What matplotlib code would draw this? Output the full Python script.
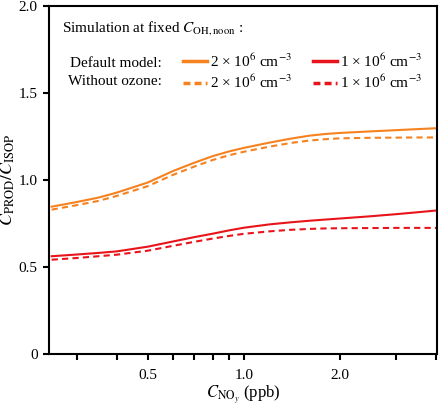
import numpy as np
import matplotlib
matplotlib.use("Agg")
import matplotlib.pyplot as plt
from matplotlib.lines import Line2D
from matplotlib.ticker import FixedLocator, NullFormatter

plt.rcParams["font.family"] = ["Liberation Serif", "DejaVu Serif"]
plt.rcParams["mathtext.fontset"] = "stix"

# ---------------------------------------------------------
# DATA
# ---------------------------------------------------------
noy = [0.25, 0.3, 0.35, 0.4, 0.5, 0.6, 0.7, 0.8, 0.9, 1.0,
       1.2, 1.4, 1.6, 1.8, 2.0, 2.5, 3.0, 3.5, 4.0]
oh2_default = [0.847, 0.874, 0.899, 0.928, 0.986, 1.052, 1.100, 1.138, 1.165, 1.185,
               1.215, 1.238, 1.255, 1.265, 1.271, 1.280, 1.287, 1.293, 1.298]
oh2_no_ozone = [0.830, 0.856, 0.880, 0.909, 0.965, 1.030, 1.078, 1.116, 1.143, 1.163,
                1.192, 1.213, 1.227, 1.235, 1.240, 1.243, 1.244, 1.245, 1.245]
oh1_default = [0.562, 0.572, 0.581, 0.590, 0.617, 0.647, 0.672, 0.692, 0.711, 0.726,
               0.745, 0.757, 0.766, 0.773, 0.779, 0.792, 0.804, 0.815, 0.825]
oh1_no_ozone = [0.542, 0.552, 0.562, 0.571, 0.594, 0.622, 0.645, 0.664, 0.679, 0.691,
                0.705, 0.714, 0.719, 0.722, 0.723, 0.724, 0.725, 0.725, 0.725]

x_major = [0.5, 1.0, 2.0]
x_major_labels = ["0.5", "1.0", "2.0"]
x_minor = [0.3, 0.4, 0.6, 0.7, 0.8, 0.9, 3.0, 4.0]
y_ticks = [0, 0.5, 1.0, 1.5, 2.0]
y_labels = ["0", "0.5", "1.0", "1.5", "2.0"]

ORANGE = "#F5821F"
RED = "#E8141B"
dash = (3, 2)

# ---------------------------------------------------------
# PLOT
# ---------------------------------------------------------
fig = plt.figure(figsize=(4.4, 4.09), dpi=100)
ax = fig.add_axes([0.111, 0.1345, 0.882, 0.8505])

ax.plot(noy, oh2_default, color=ORANGE, lw=1.5)
ax.plot(noy, oh2_no_ozone, color=ORANGE, lw=1.5, ls=(0, dash))
ax.plot(noy, oh1_default, color=RED, lw=1.5)
ax.plot(noy, oh1_no_ozone, color=RED, lw=1.5, ls=(0, dash))

ax.set_xscale("log")
ax.set_xlim(0.245, 4.02)
ax.set_ylim(0, 2.0)
ax.xaxis.set_major_locator(FixedLocator(x_major))
ax.set_xticks(x_major, x_major_labels)
ax.xaxis.set_minor_locator(FixedLocator(x_minor))
ax.xaxis.set_minor_formatter(NullFormatter())
ax.set_yticks(y_ticks, y_labels)

for s in ax.spines.values():
    s.set_linewidth(1.5)
ax.tick_params(which="both", direction="out", length=4.5, width=1.5, labelsize=11)
ax.tick_params(axis="x", pad=6)

ax.set_xlabel(r"$C_{\mathrm{NO}_y}$ (ppb)", fontsize=12, labelpad=2)
ax.set_ylabel(r"$C_{\mathrm{PROD}}/C_{\mathrm{ISOP}}$", fontsize=13)
ax.yaxis.set_label_coords(-0.082, 0.5)

# legend block
ax.text(0.034, 0.937, r"Simulation at fixed $C_{\mathrm{OH,noon}}$ :", transform=ax.transAxes,
        fontsize=11, ha="left", va="center")
ax.text(0.291, 0.836, "Default model:", transform=ax.transAxes, fontsize=11, ha="right", va="center")
ax.text(0.291, 0.784, "Without ozone:", transform=ax.transAxes, fontsize=11, ha="right", va="center")

lab2 = "2 × 10$^{6}$ cm$^{-3}$"
lab1 = "1 × 10$^{6}$ cm$^{-3}$"
handles = [
    Line2D([], [], color=ORANGE, lw=2.5),
    Line2D([], [], color=ORANGE, lw=2.5, ls=(0, (2, 1.2))),
    Line2D([], [], color=RED, lw=2.5),
    Line2D([], [], color=RED, lw=2.5, ls=(0, (2, 1.2))),
]
ax.legend(handles, [lab2, lab2, lab1, lab1], ncol=2, loc="upper left",
          bbox_to_anchor=(0.345, 0.868), frameon=False, fontsize=11,
          handlelength=1.6, handletextpad=0.2, columnspacing=1.35,
          labelspacing=0.25, borderpad=0, borderaxespad=0)

fig.savefig("out.png", dpi=100)
